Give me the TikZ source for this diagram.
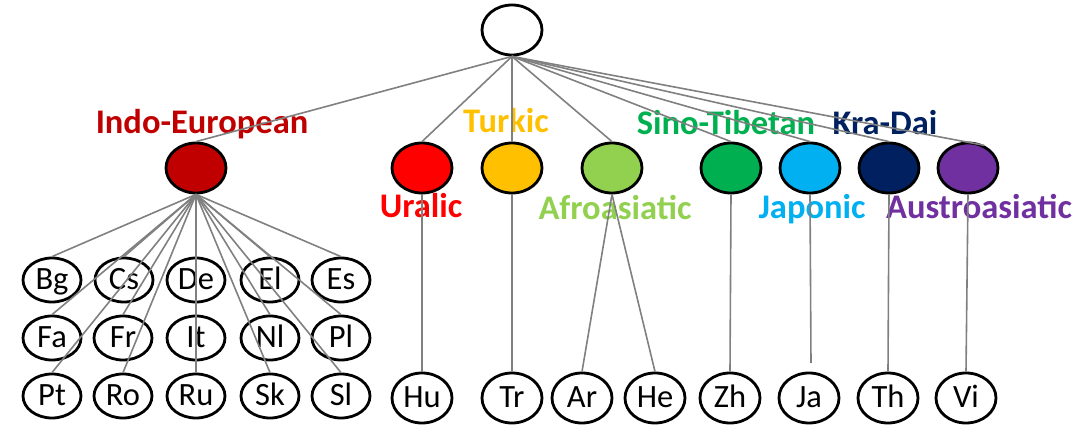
\documentclass[tikz,border=0pt]{standalone}
\usepackage{fontspec}
\setmainfont{Carlito}
\usetikzlibrary{shapes.geometric}
\definecolor{cie}{HTML}{C00000}
\definecolor{cur}{HTML}{FF0000}
\definecolor{ctu}{HTML}{FFC000}
\definecolor{caf}{HTML}{92D050}
\definecolor{cst}{HTML}{00B050}
\definecolor{cjp}{HTML}{00B0F0}
\definecolor{ckd}{HTML}{002060}
\definecolor{caa}{HTML}{7030A0}
\definecolor{conngray}{HTML}{808080}
\begin{document}
\begin{tikzpicture}[x=1pt,y=-1pt,
  fam/.style={ellipse, draw=black, line width=2.8pt, minimum width=60pt, minimum height=50pt, inner sep=0pt},
  leaf/.style={ellipse, draw=black, line width=2.8pt, minimum width=58pt, minimum height=44pt, inner sep=0pt,
    font=\fontsize{32.5}{32.5}\selectfont, text height=19pt, text depth=0pt},
  leafb/.style={leaf, minimum width=60pt, minimum height=50pt},
  conn/.style={draw=conngray, line width=1.6pt},
  lbl/.style={anchor=base, font=\bfseries\fontsize{34.5}{34.5}\selectfont, inner sep=0pt}]
\useasboundingbox (0,0) rectangle (1080,436);
% root and families
\node[fam] (root) at (512,30) {};
\node[fam, fill=cie] (ie) at (196,168) {};
\node[fam, fill=cur] (ur) at (422,168) {};
\node[fam, fill=ctu] (tu) at (512,168) {};
\node[fam, fill=caf] (af) at (612,168) {};
\node[fam, fill=cst] (st) at (731,168) {};
\node[fam, fill=cjp] (jp) at (810,168) {};
\node[fam, fill=ckd] (kd) at (889,168) {};
\node[fam, fill=caa] (aa) at (968,168) {};
% labels
\node[lbl, text=cie] (lie) at (202,133) {Indo-European};
\node[lbl, text=cur] (lur) at (421,217) {Uralic};
\node[lbl, text=ctu] (ltu) at (506,132) {Turkic};
\node[lbl, text=caf] (laf) at (615,219) {Afroasiatic};
\node[lbl, text=cst] (lst) at (726,135) {Sino-Tibetan};
\node[lbl, text=ckd] (lkd) at (885,135) {Kra-Dai};
\node[lbl, text=cjp] (ljp) at (812,218) {Japonic};
\node[lbl, text=caa] (laa) at (979,218) {Austroasiatic};
% Indo-European leaves
\node[leaf] (bg) at (52,280) {Bg};
\node[leaf] (cs) at (124,280) {Cs};
\node[leaf] (de) at (196,280) {De};
\node[leaf] (el) at (270,280) {El};
\node[leaf] (es) at (341,280) {Es};
\node[leaf] (fa) at (52,338) {Fa};
\node[leaf] (fr) at (123,338) {Fr};
\node[leaf] (it) at (196,338) {It};
\node[leaf] (nl) at (270,338) {Nl};
\node[leaf] (pl) at (341,338) {Pl};
\node[leaf] (pt) at (52,396) {Pt};
\node[leaf] (ro) at (123,396) {Ro};
\node[leaf] (ru) at (196,396) {Ru};
\node[leaf] (sk) at (270,396) {Sk};
\node[leaf] (sl) at (341,396) {Sl};
% other leaves
\node[leafb] (hu) at (422,398) {Hu};
\node[leafb] (tr) at (512,398) {Tr};
\node[leafb] (ar) at (582,398) {Ar};
\node[leafb] (he) at (655,398) {He};
\node[leafb] (zh) at (730,398) {Zh};
\node[leafb] (ja) at (809,398) {Ja};
\node[leafb] (th) at (888,398) {Th};
\node[leafb] (vi) at (966,398) {Vi};
\coordinate (jaend) at (811,363);
% connectors
\foreach \f in {ie,ur,tu,af,st,jp,kd}
  \draw[conn] (root.south) -- (\f.north);
\draw[conn] (root.south) -- (aa.55);
\foreach \l in {bg,cs,de,el,es,fa,fr,it,nl,pl,pt,ro,ru,sk,sl}
  \draw[conn] (ie.south) -- (\l.north);
\draw[conn] (ur.south) -- (hu.north);
\draw[conn] (tu.south) -- (tr.north);
\draw[conn] (af.south) -- (ar.north);
\draw[conn] (af.south) -- (he.north);
\draw[conn] (st.south) -- (zh.north);
\draw[conn] (jp.south) -- (jaend);
\draw[conn] (kd.south) -- (th.north);
\draw[conn] (aa.south) -- (vi.north);
\end{tikzpicture}
\end{document}
